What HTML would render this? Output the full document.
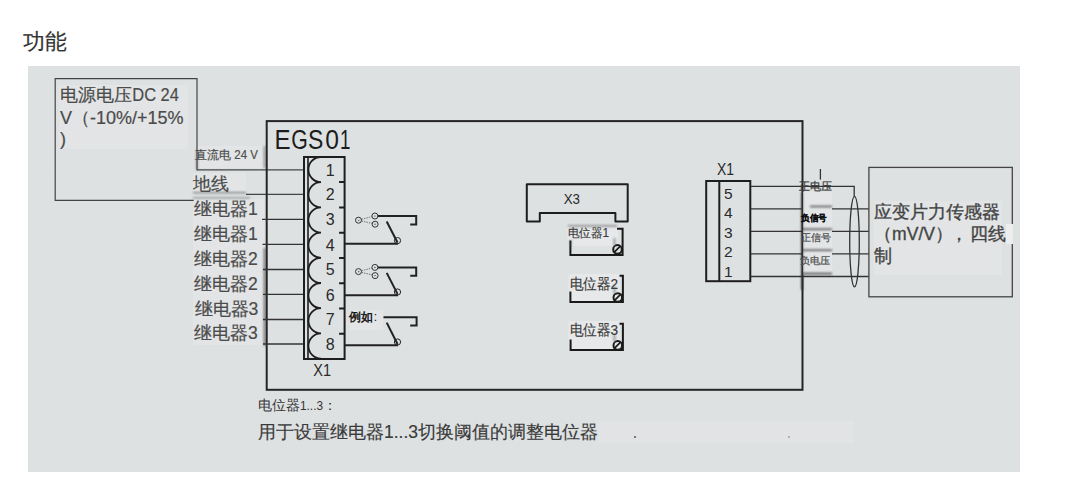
<!DOCTYPE html>
<html><head><meta charset="utf-8">
<style>
html,body{margin:0;padding:0;background:#fff;width:1067px;height:504px;overflow:hidden}
svg{display:block;font-family:"Liberation Sans",sans-serif}
</style></head>
<body>
<svg width="1067" height="504" viewBox="0 0 1067 504">
<defs>
<filter id="bl" x="-50%" y="-50%" width="200%" height="200%"><feGaussianBlur stdDeviation="0.8"/></filter>
<filter id="bl2" x="-50%" y="-50%" width="200%" height="200%"><feGaussianBlur stdDeviation="1.5"/></filter>
</defs>
<rect x="0" y="0" width="1067" height="504" fill="#fff"/>
<text x="23.3" y="48.5" font-size="22.4" fill="#333" stroke="#333" stroke-width="0.2" textLength="43.6" lengthAdjust="spacingAndGlyphs">功能</text>
<rect x="28" y="66" width="992" height="406" fill="#dee1e2"/>

<!-- patches -->
<g fill="#e2e4e5">
<rect x="59" y="85" width="129" height="64"/>
<rect x="198" y="146" width="66" height="22"/>
<rect x="193" y="173" width="53" height="20"/>
<rect x="193" y="199" width="71" height="146"/>
<rect x="803" y="192" width="29" height="83"/>
<rect x="874" y="201" width="128" height="74"/>
<rect x="598" y="421" width="256" height="22" fill="#e1e3e4"/>
<rect x="567" y="227" width="40" height="17"/>
<rect x="568" y="275" width="50" height="28"/>
<rect x="568" y="322" width="50" height="28"/>
</g>

<!-- supply box -->
<g fill="none" stroke="#444" stroke-width="1.2">
<path d="M197 170.2 V78.6 H55.2 V200.4 H193.7"/>
<path d="M197 169.9 H304"/>
<path d="M246 194.3 H304"/>
</g>
<g filter="url(#bl)" stroke="#555" fill="none" stroke-width="1.3" opacity="0.8">
<path d="M193 192.6 H246"/>
<path d="M193 197.9 H250" opacity="0.8"/>
<path d="M197 150 V170"/>
<path d="M264.5 146 V168"/>
<path d="M264.6 248 V346" stroke="#333" stroke-width="1.6"/>
</g>
<g fill="#4b4b4b" stroke="#4b4b4b" stroke-width="0.2">
<text x="60.3" y="101.3" font-size="18">电源电压<tspan textLength="46.5" lengthAdjust="spacingAndGlyphs">DC 24</tspan></text>
<text x="60" y="123.5" font-size="18">V（-10%/+15%</text>
<text x="60" y="145" font-size="18">)</text>
<text x="195" y="158.7" font-size="12" fill="#505050">直流电 <tspan textLength="23.6" lengthAdjust="spacingAndGlyphs">24 V</tspan></text>
<text x="193.3" y="189.6" font-size="17.5">地线</text>
<text x="194" y="215.3" font-size="17.5">继电器1</text>
<text x="194" y="240.1" font-size="17.5">继电器1</text>
<text x="194" y="264.9" font-size="17.5">继电器2</text>
<text x="194" y="289.7" font-size="17.5">继电器2</text>
<text x="194.5" y="314.5" font-size="17.5">继电器3</text>
<text x="194" y="339.1" font-size="17.5">继电器3</text>
</g>

<!-- EGS01 box -->
<rect x="266.7" y="121.1" width="535.8" height="268.7" fill="none" stroke="#252525" stroke-width="2"/>
<g fill="#1c1c1c" font-size="28">
<text transform="translate(274.4 148.8) scale(0.86 1)">E</text>
<text transform="translate(291.3 148.8) scale(0.76 1)">G</text>
<text transform="translate(308 148.8) scale(0.82 1)">S</text>
<text transform="translate(325.2 148.8) scale(0.88 1)">0</text>
<text transform="translate(340 148.8) scale(0.67 1)">1</text>
</g>

<!-- left wires -->
<path d="M262 219.3 H304 M262.5 244.3 H304 M263 269.5 H304 M263 294.3 H304 M263 319.5 H304 M263 344 H304" stroke="#333" stroke-width="1.3" fill="none"/>

<!-- terminal block X1 left -->
<g fill="none" stroke="#1e1e1e" stroke-width="2">
<rect x="304" y="157" width="40.6" height="202"/>
<path d="M308 157 V359" stroke-width="1.6"/>
<path d="M344.6 182.1 h-5.5 M344.6 207.4 h-5.5 M344.6 232.7 h-5.5 M344.6 257.9 h-5.5 M344.6 283.2 h-5.5 M344.6 308.5 h-5.5 M344.6 333.8 h-5.5"/>
<path d="M321 157 A12.6 12.6 0 0 0 321 182.2 M321 182.2 A12.6 12.6 0 0 0 321 207.4 M321 207.4 A12.6 12.6 0 0 0 321 232.6 M321 232.6 A12.6 12.6 0 0 0 321 257.8 M321 257.8 A12.6 12.6 0 0 0 321 283 M321 283 A12.6 12.6 0 0 0 321 308.2 M321 308.2 A12.6 12.6 0 0 0 321 333.4 M321 333.4 A12.6 12.6 0 0 0 321 358.6" stroke-width="1.8"/>
</g>
<g fill="#2a2a2a" font-size="16" text-anchor="middle">
<text x="330.2" y="175.7">1</text>
<text x="330.2" y="199.5">2</text>
<text x="330.2" y="225.3">3</text>
<text x="330.2" y="251">4</text>
<text x="330.2" y="275">5</text>
<text x="330.2" y="300.5">6</text>
<text x="330.2" y="324.5">7</text>
<text x="330.2" y="349.7">8</text>
</g>
<text transform="translate(322.2 375.9) scale(0.97 1.12)" font-size="15" fill="#2a2a2a" text-anchor="middle">X1</text>

<!-- switches -->
<g fill="none" stroke="#222">
<circle cx="358.5" cy="220.2" r="3" stroke-width="1" stroke="#333"/>
<circle cx="374.9" cy="216" r="3" stroke-width="1" stroke="#333"/>
<circle cx="375.1" cy="224.2" r="3" stroke-width="1" stroke="#333"/>
<g fill="#222" stroke="none"><circle cx="358.8" cy="220.3" r="0.6"/><circle cx="374.9" cy="216" r="0.6"/><circle cx="375" cy="224.2" r="0.6"/></g>
<path d="M361.5 219.4 L371.9 216.6 M361.5 221 L372.1 223.4" stroke-width="0.8" stroke-dasharray="1.5 1" stroke="#555"/>
<path d="M377.9 216 H416.2 V224.4 H410.2" stroke-width="2"/>
<path d="M386.7 221.5 L397.5 242.5" stroke-width="2"/>
<circle cx="397.5" cy="240.6" r="3.1" stroke-width="1"/>
<path d="M345 243.8 H398" stroke-width="2"/>
</g>
<g fill="none" stroke="#222" transform="translate(0 51.4)">
<circle cx="358.5" cy="220.2" r="3" stroke-width="1" stroke="#333"/>
<circle cx="374.9" cy="216" r="3" stroke-width="1" stroke="#333"/>
<circle cx="375.1" cy="224.2" r="3" stroke-width="1" stroke="#333"/>
<g fill="#222" stroke="none"><circle cx="358.8" cy="220.3" r="0.6"/><circle cx="374.9" cy="216" r="0.6"/><circle cx="375" cy="224.2" r="0.6"/></g>
<path d="M361.5 219.4 L371.9 216.6 M361.5 221 L372.1 223.4" stroke-width="0.8" stroke-dasharray="1.5 1" stroke="#555"/>
<path d="M377.9 216 H416.2 V224.4 H410.2" stroke-width="2"/>
<path d="M386.7 221.5 L397.5 242.5" stroke-width="2"/>
<circle cx="397.5" cy="240.6" r="3.1" stroke-width="1"/>
<path d="M345 243.8 H398" stroke-width="2"/>
</g>

<g fill="none" stroke="#222">
<path d="M383.5 317.3 H416.6 V325.6 H410.2" stroke-width="2"/>
<path d="M386.7 322.6 L397.5 344" stroke-width="2"/>
<circle cx="397.5" cy="342" r="3.1" stroke-width="1"/>
<path d="M345 345.2 H398" stroke-width="2"/>
</g>
<rect x="350" y="310" width="33" height="20" fill="#e3e5e6"/>
<path d="M375 313.7 H382" stroke="#555" stroke-width="1.5" filter="url(#bl)"/>
<text x="349.2" y="321.2" font-size="12.2" font-weight="bold" fill="#1a1a1a">例如<tspan font-weight="normal" dx="0.5">:</tspan></text>

<!-- X3 -->
<path d="M526.8 184.3 H627.7 V221.4 H615.4 V213 H539.8 V221.4 H526.8 Z" fill="none" stroke="#1e1e1e" stroke-width="2" stroke-linejoin="round"/>
<text transform="translate(571.8 203.7) scale(0.92 1.04)" font-size="14.5" fill="#2a2a2a" text-anchor="middle">X3</text>

<!-- pots -->
<g fill="#e6e8e9">
<rect x="568" y="226" width="50" height="20"/>
<rect x="569" y="274" width="51" height="27"/>
<rect x="569" y="321" width="51" height="28"/>
</g>
<g fill="none" stroke="#1a1a1a" stroke-width="2">
<path d="M617 228.8 H622.6 V254.9 H570.4 V240.5"/>
<circle cx="617.5" cy="249.4" r="4.3" stroke-width="2"/>
<path d="M614.3 252.2 L620.3 246.2" stroke-width="1.7"/>
<path d="M619.5 275.7 H622.9 V302 H570.4 V291.5"/>
<circle cx="617.8" cy="297.5" r="4.3" stroke-width="2"/>
<path d="M614.6 300.3 L620.6 294.3" stroke-width="1.7"/>
<path d="M619.5 323.8 H622.9 V350.1 H570.6 V339.5"/>
<circle cx="617.8" cy="345.4" r="4.3" stroke-width="2"/>
<path d="M614.6 348.2 L620.6 342.2" stroke-width="1.7"/>
</g>
<g filter="url(#bl)" fill="none" stroke="#555" stroke-width="1.5" opacity="0.7">
<path d="M568 226 H617"/>
<path d="M614.5 238 V246 M614.5 286 V294 M614.5 334 V342"/>
<path d="M570.5 240 V246"/>
</g>
<g fill="#3a3a3a" stroke="#3a3a3a" stroke-width="0.15">
<text x="567.6" y="237.3" font-size="12.3" textLength="41.5" lengthAdjust="spacingAndGlyphs">电位器1</text>
<text x="569.6" y="288.5" font-size="15" textLength="48.5" lengthAdjust="spacingAndGlyphs">电位器2</text>
<text x="569.6" y="334.7" font-size="15" textLength="48.5" lengthAdjust="spacingAndGlyphs">电位器3</text>
</g>

<!-- right X1 -->
<g fill="none" stroke="#1e1e1e" stroke-width="2">
<rect x="706.2" y="181" width="44.1" height="100.2"/>
<path d="M719.3 181 V281.2"/>
</g>
<g fill="#2a2a2a" font-size="15.5" text-anchor="middle">
<text transform="translate(725.5 174.8) scale(0.9 1.07)">X1</text>
<text x="728.2" y="199.3">5</text>
<text x="728.2" y="218.3">4</text>
<text x="728.2" y="237.5">3</text>
<text x="728.2" y="256.8">2</text>
<text x="728.2" y="276.8">1</text>
</g>
<g fill="none" stroke="#333" stroke-width="1.3">
<path d="M750.7 186.3 H854.2 V196.3"/>
<path d="M750.7 208.9 H868.8 M750.7 231.4 H868.8 M750.7 253.8 H868.8 M750.7 276.5 H868.8"/>
<ellipse cx="854.5" cy="241.6" rx="4.8" ry="45.3"/>
<path d="M820.4 169 V179.6"/>
</g>
<rect x="803" y="192" width="29" height="83" fill="#e3e5e6"/>
<g filter="url(#bl)" stroke="#333" fill="none" stroke-width="1.6" opacity="0.85">
<path d="M810 206.5 H832 M803 229.3 H832 M803 250.3 H832 M803 273.6 H832"/>
<path d="M802 192 V290" stroke-width="2"/>
</g>
<g fill="#3c3c3c" stroke="#3c3c3c" stroke-width="0.25" font-size="11.3">
<text x="798.5" y="189.6">正电压</text>
<text x="801.3" y="220.5" font-size="9.2" font-weight="bold" fill="#111" stroke="#111" textLength="25.5" lengthAdjust="spacingAndGlyphs">负信号</text>
<text x="801.3" y="240.9" font-size="10" fill="#505050" stroke="#505050">正信号</text>
<text x="800.3" y="263.8" font-size="10" fill="#505050" stroke="#505050">负电压</text>
</g>

<!-- sensor box -->
<rect x="868.9" y="167.4" width="143.4" height="129.4" fill="none" stroke="#444" stroke-width="1.3"/>
<rect x="1006" y="224" width="7" height="20" fill="#eceeee"/>
<g fill="#444" stroke="#444" stroke-width="0.35" font-size="18">
<text x="874" y="218.2">应变片力传感器</text>
<text x="874" y="240">（<tspan textLength="43" lengthAdjust="spacingAndGlyphs">mV/V</tspan>）<tspan dx="-3.5">，</tspan><tspan dx="2">四线</tspan></text>
<text x="874" y="261.8">制</text>
</g>

<!-- bottom text -->
<text x="258" y="410" font-size="13.5" fill="#333">电位器<tspan textLength="23" lengthAdjust="spacingAndGlyphs">1...3</tspan>：</text>
<text x="258" y="438" font-size="17.5" fill="#3a3a3a" stroke="#3a3a3a" stroke-width="0.15">用于设置继电器1...3切换阈值的调整电位器</text>
<circle cx="635" cy="437" r="1" fill="#555"/>
<circle cx="789" cy="437" r="0.8" fill="#777"/>
</svg>
</body></html>
